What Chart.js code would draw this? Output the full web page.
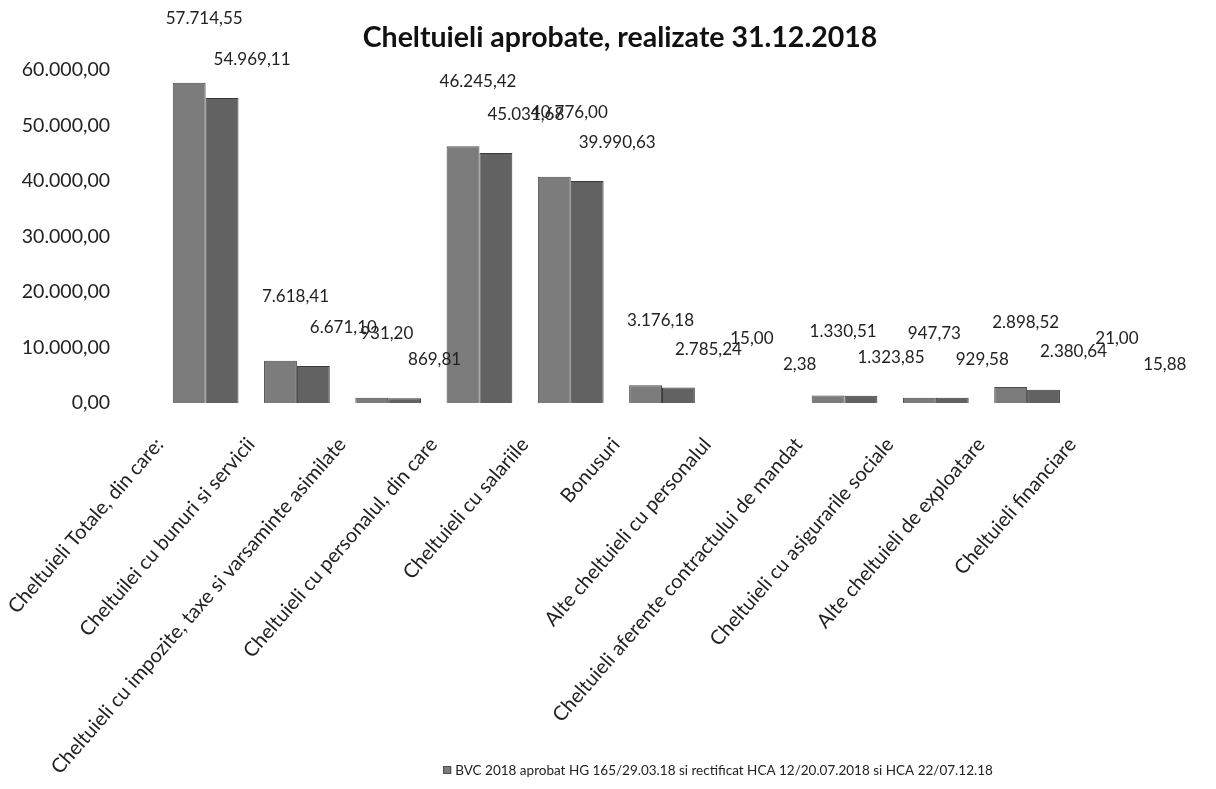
<!DOCTYPE html>
<html>
<head>
<meta charset="utf-8">
<script src="https://cdn.jsdelivr.net/npm/chart.js@4.4.0/dist/chart.umd.min.js"></script>
<style>
  html, body { margin: 0; padding: 0; background: #fff; }
  #wrap { width: 1216px; height: 789px; }
</style>
</head>
<body>
<div id="wrap"><canvas id="chart" width="1216" height="789"></canvas></div>
<script>
const categories = [
  "Cheltuieli Totale, din care:",
  "Cheltuilei cu bunuri si servicii",
  "Cheltuieli cu impozite, taxe si varsaminte asimilate",
  "Cheltuieli cu personalul, din care",
  "Cheltuieli cu salariile",
  "Bonusuri",
  "Alte cheltuieli cu personalul",
  "Cheltuieli aferente contractului de mandat",
  "Cheltuieli cu asigurarile sociale",
  "Alte cheltuieli de exploatare",
  "Cheltuieli financiare"
];
const aprobat = [57714.55, 7618.41, 931.20, 46245.42, 40776.00, 3176.18, 15.00, 1330.51, 947.73, 2898.52, 21.00];
const realizat = [54969.11, 6671.10, 869.81, 45031.68, 39990.63, 2785.24, 2.38, 1323.85, 929.58, 2380.64, 15.88];
const yTicks = [0, 10000, 20000, 30000, 40000, 50000, 60000];

const titleText = "Cheltuieli aprobate, realizate 31.12.2018";
const legendText = "BVC 2018 aprobat HG 165/29.03.18 si rectificat HCA 12/20.07.2018 si HCA 22/07.12.18";

const FONT = "Lato, 'Open Sans', sans-serif";

// romanian number format: 57.714,55
function fmt(v) {
  const parts = v.toFixed(2).split(".");
  parts[0] = parts[0].replace(/\B(?=(\d{3})+(?!\d))/g, ".");
  return parts[0] + "," + parts[1];
}

// value labels above the bars
const valueLabels = {
  id: "valueLabels",
  afterDatasetsDraw(chart) {
    const ctx = chart.ctx;
    ctx.save();
    ctx.font = "17px " + FONT;
    ctx.fillStyle = "#222";
    ctx.textAlign = "center";
    ctx.textBaseline = "bottom";
    const offs = [{ dx: 15, dy: 56 }, { dx: 30, dy: 30 }];
    chart.data.datasets.forEach((ds, i) => {
      const meta = chart.getDatasetMeta(i);
      meta.data.forEach((bar, j) => {
        ctx.fillText(fmt(ds.data[j]), bar.x + offs[i].dx, bar.y - offs[i].dy);
      });
    });
    ctx.restore();
  }
};

// title and legend, placed off-centre like the original sheet
const decor = {
  id: "decor",
  afterDraw(chart) {
    const ctx = chart.ctx;
    ctx.save();
    ctx.fillStyle = "#111";
    ctx.font = "bold 28.5px " + FONT;
    ctx.textAlign = "center";
    ctx.textBaseline = "middle";
    ctx.fillText(titleText, 620, 38);

    ctx.font = "13.5px " + FONT;
    ctx.textAlign = "left";
    const w = ctx.measureText(legendText).width;
    const x0 = 718 - (w + 12) / 2;
    ctx.fillStyle = chart.data.datasets[0].backgroundColor;
    ctx.strokeStyle = chart.data.datasets[0].borderColor;
    ctx.fillRect(x0, 766, 8, 8);
    ctx.strokeRect(x0 + 0.5, 766.5, 7, 7);
    ctx.fillStyle = "#222";
    ctx.fillText(legendText, x0 + 12, 771);
    ctx.restore();
  }
};

new Chart(document.getElementById("chart"), {
  type: "bar",
  data: {
    labels: categories,
    datasets: [
      {
        label: legendText,
        data: aprobat,
        backgroundColor: "#7c7c7c",
        borderColor: "#4a4a4a",
        borderWidth: 1,
        categoryPercentage: 0.72,
        barPercentage: 1.0
      },
      {
        label: "Realizat 31.12.2018",
        data: realizat,
        backgroundColor: "#626262",
        borderColor: "#3a3a3a",
        borderWidth: 1,
        categoryPercentage: 0.72,
        barPercentage: 1.0
      }
    ]
  },
  options: {
    responsive: false,
    animation: false,
    layout: { padding: { left: 10, right: 52, top: 70, bottom: 16 } },
    plugins: {
      title: { display: false },
      legend: { display: false },
      tooltip: { enabled: false }
    },
    scales: {
      x: {
        grid: { display: false, drawTicks: false },
        border: { display: false },
        afterFit: (axis) => {
          axis.height = 370;
          axis.paddingLeft = 0;
          axis.paddingRight = 0;
        },
        ticks: {
          color: "#222",
          font: { family: FONT, size: 20 },
          minRotation: 49,
          maxRotation: 49,
          padding: 30,
          labelOffset: -46,
          autoSkip: false
        }
      },
      y: {
        min: 0,
        max: 60000,
        afterBuildTicks: (axis) => { axis.ticks = yTicks.map(v => ({ value: v })); },
        afterFit: (axis) => { axis.width = 150; },
        grid: { display: false, drawTicks: false },
        border: { display: false },
        ticks: {
          color: "#222",
          font: { family: FONT, size: 19.5 },
          padding: 50,
          callback: (v) => fmt(v)
        }
      }
    }
  },
  plugins: [valueLabels, decor]
});
</script>
</body>
</html>
